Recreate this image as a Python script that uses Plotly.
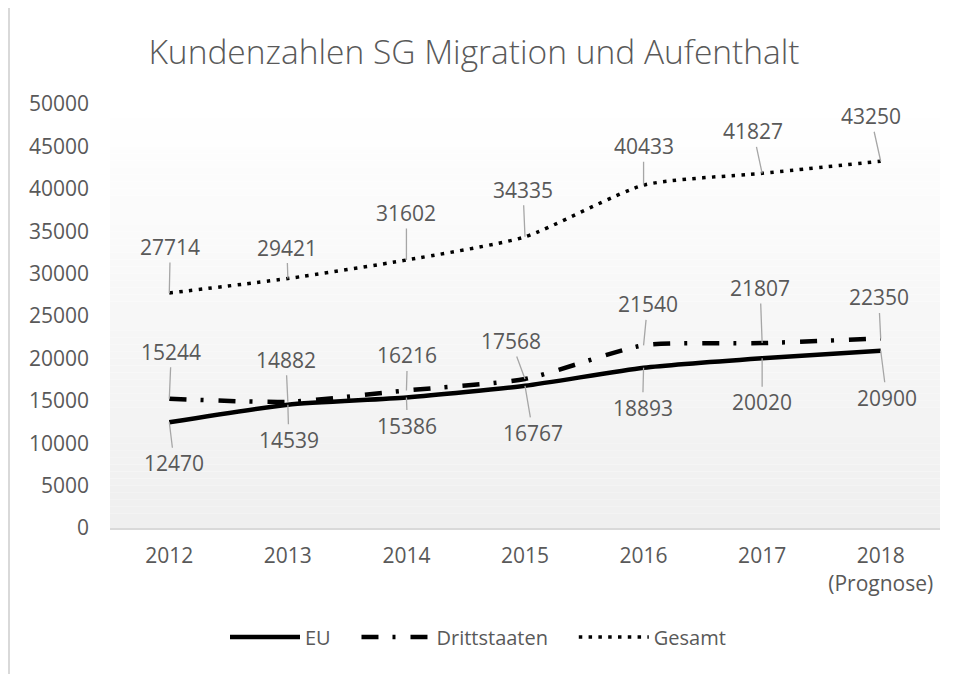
import plotly.graph_objects as go

categories = ["2012", "2013", "2014", "2015", "2016", "2017", "2018<br>(Prognose)"]
eu = [12470, 14539, 15386, 16767, 18893, 20020, 20900]
drittstaaten = [15244, 14882, 16216, 17568, 21540, 21807, 22350]
gesamt = [27714, 29421, 31602, 34335, 40433, 41827, 43250]
y_ticks = [0, 5000, 10000, 15000, 20000, 25000, 30000, 35000, 40000, 45000, 50000]

# label offsets (pixels) of the data-label callouts
eu_off = [(5, 41), (1, 35), (1, 28), (8, 47), (-1, 40), (0, 44), (6, 47)]
dr_off = [(2, -47), (-2, -42), (1, -35), (-14, -38), (4, -41), (-2, -55), (-2, -41)]
ge_off = [(1, -46), (-1, -31), (0, -47), (-2, -47), (0, -39), (-9, -42), (-10, -45)]

W, H = 955, 674
ML, MR, MT, MB = 102, 23, 96, 154
FONT = "Open Sans"
GRAY = "#595959"
NB = "\u00a0"

fig = go.Figure()
fig.add_trace(go.Scatter(x=categories, y=eu, name="EU" + NB * 4, mode="lines",
                         line=dict(color="black", width=4.5, shape="spline", smoothing=0.6)))
fig.add_trace(go.Scatter(x=categories, y=drittstaaten, name="Drittstaaten" + NB * 4, mode="lines",
                         line=dict(color="black", width=4.5, dash="17px,14px,3px,15px",
                                   shape="spline", smoothing=0.6)))
fig.add_trace(go.Scatter(x=categories, y=gesamt, name="Gesamt", mode="lines",
                         line=dict(color="black", width=3.5, dash="3.5px,6.3px",
                                   shape="spline", smoothing=0.6)))

annotations = []
for series, offs in ((gesamt, ge_off), (drittstaaten, dr_off), (eu, eu_off)):
    for i, (v, (dx, dy)) in enumerate(zip(series, offs)):
        annotations.append(dict(
            x=i, y=v, xref="x", yref="y", text=str(v), showarrow=True,
            arrowhead=0, arrowwidth=1.3, arrowcolor="#a6a6a6", ax=dx, ay=dy,
            font=dict(family=FONT, size=21, color=GRAY), borderpad=1))

# gradient background of plot area
shapes = []
N = 60
top = (255, 255, 255)
bot = (239, 239, 239)
for k in range(N):
    t = (k + 0.5) / N  # 0 at bottom
    col = tuple(round(bot[j] + (top[j] - bot[j]) * t) for j in range(3))
    shapes.append(dict(type="rect", xref="paper", yref="paper", x0=0, x1=1,
                       y0=k / N, y1=(k + 1) / N, fillcolor="rgb(%d,%d,%d)" % col,
                       line=dict(width=0), layer="below"))

pw = W - ML - MR
ph = H - MT - MB
def px_to_paper_x(px):
    return (px - ML) / pw
def px_to_paper_y(py):
    return (H - MB - py) / ph

# outer chart border (left side visible)
shapes.append(dict(type="line", xref="paper", yref="paper",
                   x0=px_to_paper_x(1), x1=px_to_paper_x(1),
                   y0=px_to_paper_y(-5), y1=px_to_paper_y(H + 5),
                   line=dict(color="#d9d9d9", width=2)))

fig.update_layout(
    width=W, height=H,
    margin=dict(l=ML, r=MR, t=MT, b=MB),
    paper_bgcolor="white", plot_bgcolor="rgba(0,0,0,0)",
    title=dict(text="Kundenzahlen SG Migration und Aufenthalt", x=466 / W, xanchor="center",
               y=1 - 44 / H, yanchor="middle",
               font=dict(family=FONT, size=33.5, color=GRAY, weight=300)),
    font=dict(family=FONT, color=GRAY, size=20),
    showlegend=True,
    legend=dict(orientation="h", xref="container", yref="container",
                x=470 / W, xanchor="center", y=1 - 629 / H, yanchor="middle",
                font=dict(family=FONT, size=20, color=GRAY), itemwidth=70,
                bgcolor="rgba(0,0,0,0)", traceorder="normal"),
    shapes=shapes,
    annotations=annotations,
)
fig.update_xaxes(type="category", range=[-0.5, 6.5], showgrid=False, showline=True,
                 linecolor="#d9d9d9", linewidth=2, ticks="",
                 tickfont=dict(family=FONT, size=21, color=GRAY), zeroline=False,
                 ticklabelstandoff=8)
fig.update_yaxes(range=[0, 50000], tickvals=y_ticks, ticktext=[str(v) for v in y_ticks],
                 showgrid=False, showline=False, zeroline=False, ticks="",
                 tickfont=dict(family=FONT, size=21, color=GRAY), ticklabelstandoff=20)

fig.write_html("out.html")
